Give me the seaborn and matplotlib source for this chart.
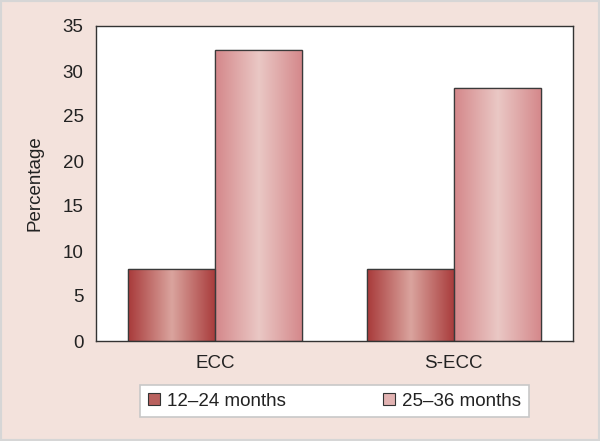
import numpy as np
import pandas as pd
import matplotlib
matplotlib.use("Agg")
import matplotlib.pyplot as plt
import seaborn as sns
from matplotlib.colors import LinearSegmentedColormap
from matplotlib.patches import Patch, Rectangle

categories = ["ECC", "S-ECC"]
groups = ["12\u201324 months", "25\u201336 months"]
values_12_24 = [8.0, 8.0]
values_25_36 = [32.3, 28.1]
yticks = [0, 5, 10, 15, 20, 25, 30, 35]

df = pd.DataFrame({
    "cat": categories * 2,
    "grp": [groups[0]] * 2 + [groups[1]] * 2,
    "val": values_12_24 + values_25_36,
})

sns.set_style("white")
plt.rcParams["font.family"] = ["Liberation Sans", "DejaVu Sans"]

FS = 13.5
bg = "#F3E2DC"
fig = plt.figure(figsize=(6, 4.41), dpi=100, facecolor=bg)
fig.patches.append(Rectangle((0, 0), 1, 1, transform=fig.transFigure, fill=False,
                             edgecolor="#D6D6D6", linewidth=3, zorder=10))
ax = fig.add_axes([96/600, 1-341/441, (573-96)/600, (341-26)/441])
ax.set_facecolor("white")

edge_cols = {groups[0]: ("#A83A3A", "#DAA49E"), groups[1]: ("#D4878A", "#EAC8C5")}
palette = {groups[0]: "#C06A66", groups[1]: "#DFA9A8"}

sns.barplot(data=df, x="cat", y="val", hue="grp", order=categories,
            hue_order=groups, palette=palette, width=0.73, ax=ax,
            edgecolor="#3a3a3a", linewidth=0.9, saturation=1, legend=False)

ax.set_ylim(0, 35)
ax.set_xlim(-0.5, 1.5)
ax.set_yticks(yticks)

# gradient overlay on bars
for container, g in zip(ax.containers, groups):
    dark, light = edge_cols[g]
    cmap = LinearSegmentedColormap.from_list("c", [dark, light, dark])
    grad = np.linspace(0, 1, 256).reshape(1, -1)
    for p in container.patches:
        x0, y0 = p.get_x(), p.get_y()
        w, h = p.get_width(), p.get_height()
        im = ax.imshow(grad, cmap=cmap, aspect="auto",
                       extent=[x0, x0 + w, y0, y0 + h], zorder=p.get_zorder() + 0.1)
        im.set_clip_path(p)
        border = plt.Rectangle((x0, y0), w, h, fill=False, edgecolor="#3a3a3a",
                               linewidth=0.9, zorder=p.get_zorder() + 0.2)
        ax.add_patch(border)

ax.set_xlim(-0.5, 1.5)
ax.set_ylim(0, 35)

for s in ax.spines.values():
    s.set_visible(True)
    s.set_color("#333333")
    s.set_linewidth(1.0)

ax.tick_params(axis="y", length=0, labelsize=FS, colors="#222222", pad=9)
ax.tick_params(axis="x", length=0, labelsize=FS, colors="#222222", pad=10)
ax.set_xlabel("")
ax.set_ylabel("Percentage", fontsize=FS, color="#222222", labelpad=14)

# legend
handles = [Patch(facecolor="#B9615E", edgecolor="#333333", linewidth=0.8),
           Patch(facecolor="#E2B3B2", edgecolor="#333333", linewidth=0.8)]
leg = fig.legend(handles, groups, loc="center", bbox_to_anchor=(334.5/600, 1-401/441),
                 ncol=2, frameon=True, fancybox=False, fontsize=FS,
                 handlelength=0.65, handleheight=0.65, handletextpad=0.37,
                 columnspacing=5.2, borderpad=0.4, borderaxespad=0)
leg.get_frame().set_edgecolor("#C8C8C8")
leg.get_frame().set_facecolor("white")
leg.get_frame().set_alpha(1)
leg.get_frame().set_linewidth(1.2)
for t in leg.get_texts():
    t.set_color("#222222")

fig.savefig("out.png", dpi=100, facecolor=bg)
